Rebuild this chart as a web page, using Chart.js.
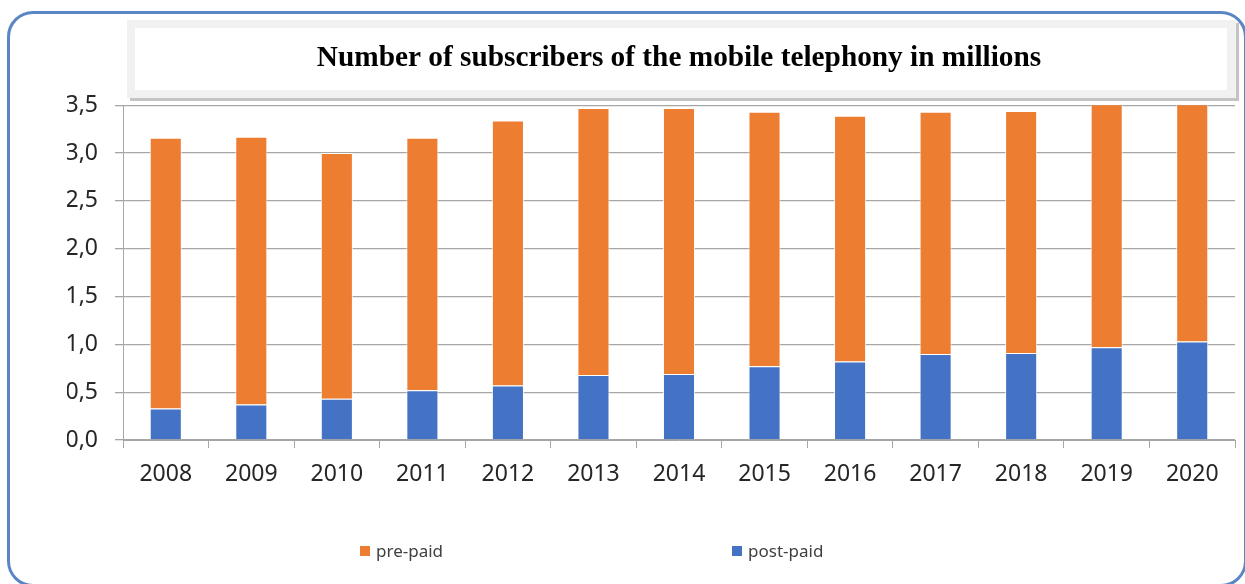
<!DOCTYPE html>
<html>
<head>
<meta charset="utf-8">
<script src="https://cdn.jsdelivr.net/npm/chart.js@4/dist/chart.umd.min.js"></script>
<style>
    body { margin: 0; background: #fff; }
    #wrap { position: relative; width: 1245px; height: 584px; overflow: hidden; }
    #chartcanvas { position: absolute; left: 0; top: 0; }
    #frame {
        position: absolute; left: 7px; top: 11px; width: 1234px; height: 570px;
        border: 3px solid #5a87c4; border-radius: 26px; pointer-events: none;
    }
    #legend {
        position: absolute; left: 360px; top: 539px; display: flex; gap: 289px;
        font-family: "Noto Sans"; font-size: 17px; color: #404040;
    }
    #legend span.item { display: flex; align-items: center; }
    #legend span.box { width: 10px; height: 10px; margin-right: 6px; display: inline-block; }
</style>
</head>
<body>
<div id="wrap">
    <canvas id="chartcanvas" width="1245" height="584"></canvas>
    <div id="frame"></div>
    <div id="legend"></div>
</div>
<script>
// chart values
var years = ["2008", "2009", "2010", "2011", "2012", "2013", "2014",
             "2015", "2016", "2017", "2018", "2019", "2020"];
var postPaid = [0.33, 0.37, 0.43, 0.52, 0.57, 0.68, 0.69, 0.77, 0.82, 0.90, 0.91, 0.97, 1.03];
var prePaid  = [2.83, 2.80, 2.57, 2.64, 2.77, 2.79, 2.78, 2.66, 2.57, 2.53, 2.53, 2.56, 2.52];
var yTicks = [0, 0.5, 1.0, 1.5, 2.0, 2.5, 3.0, 3.5];
var titleText = "Number of subscribers of the mobile telephony in millions";

Chart.defaults.font.family = "Noto Sans";
Chart.defaults.color = "#333";

//grey box behind the title, like the excel chart title frame
var titleBox = {
    id: "titleBox",
    beforeDraw: function(chart) {
        var c = chart.ctx;
        c.save();
        c.fillStyle = "#c4c4c4";
        c.fillRect(130, 23, 1109, 78);
        c.fillStyle = "#f1f1f1";
        c.fillRect(127, 20, 1109, 78);
        c.fillStyle = "#ffffff";
        c.fillRect(135, 28, 1092, 62);
        c.restore();
    }
};

var gridGrey = "#a6a6a6";

var chart = new Chart(document.getElementById("chartcanvas"), {
    type: "bar",
    data: {
        labels: years,
        datasets: [
            {
                label: "post-paid",
                data: postPaid,
                backgroundColor: "#4472c4",
                borderColor: "rgba(255,255,255,0.85)",
                borderWidth: 1,
                categoryPercentage: 0.75,
                barPercentage: 0.5
            },
            {
                label: "pre-paid",
                data: prePaid,
                backgroundColor: "#ed7d31",
                borderColor: "rgba(255,255,255,0.85)",
                borderWidth: 1,
                categoryPercentage: 0.75,
                barPercentage: 0.5
            }
        ]
    },
    options: {
        responsive: false,
        animation: false,
        layout: { padding: { left: 67, right: 10, top: 0, bottom: 94 } },
        plugins: {
            legend: { display: false },
            tooltip: { enabled: false },
            title: {
                display: true,
                text: titleText,
                fullSize: false,
                color: "#000",
                font: { family: "Liberation Serif", size: 29.3, weight: "bold" },
                padding: { top: 41, bottom: 29 }
            }
        },
        scales: {
            x: {
                stacked: true,
                grid: {
                    offset: true,
                    drawOnChartArea: false,
                    drawTicks: true,
                    tickLength: 8,
                    color: gridGrey
                },
                border: { color: gridGrey, width: 1 },
                ticks: { font: { size: 23 }, padding: 13, color: "#262626" },
                afterFit: function(scale) { scale.height = 50; }
            },
            y: {
                stacked: true,
                min: 0,
                max: 3.5,
                afterBuildTicks: function(scale) {
                    scale.ticks = yTicks.map(function(v) { return { value: v }; });
                },
                grid: { color: gridGrey, tickLength: 8, lineWidth: 1.3 },
                border: { color: gridGrey, width: 1 },
                ticks: {
                    font: { size: 23 },
                    padding: 17,
                    color: "#262626",
                    callback: function(v) { return Number(v).toFixed(1).replace(".", ","); }
                },
                afterFit: function(scale) { scale.width = 56; }
            }
        }
    },
    plugins: [titleBox]
});

//html legend built from the datasets, pre-paid first
var legendEl = document.getElementById("legend");
chart.data.datasets.slice().reverse().forEach(function(ds) {
    var item = document.createElement("span");
    item.className = "item";
    var box = document.createElement("span");
    box.className = "box";
    box.style.background = ds.backgroundColor;
    item.appendChild(box);
    item.appendChild(document.createTextNode(ds.label));
    legendEl.appendChild(item);
});
</script>
</body>
</html>
